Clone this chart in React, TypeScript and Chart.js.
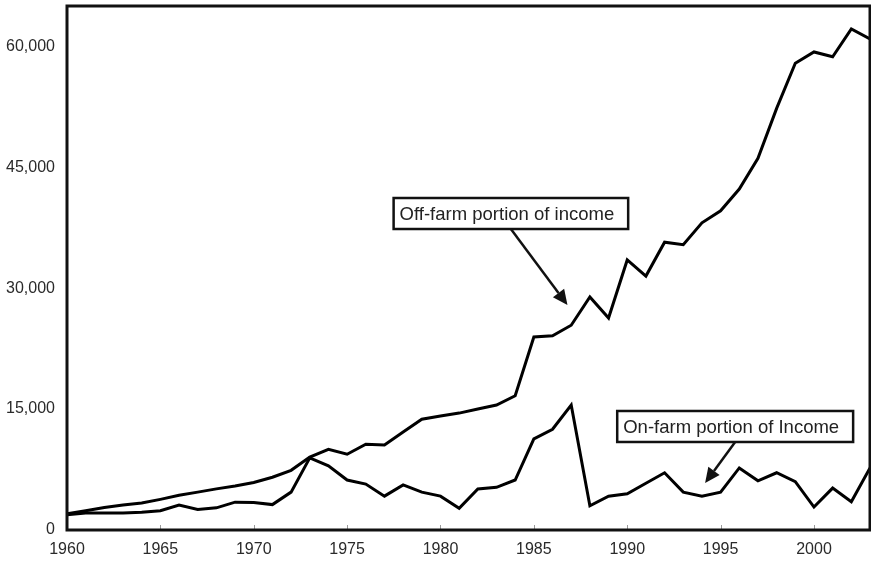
import React, { useEffect, useRef } from "react";
import { Chart, registerables } from "chart.js";

Chart.register(...registerables);

const years = [
  1960, 1961, 1962, 1963, 1964, 1965, 1966, 1967, 1968, 1969,
  1970, 1971, 1972, 1973, 1974, 1975, 1976, 1977, 1978, 1979,
  1980, 1981, 1982, 1983, 1984, 1985, 1986, 1987, 1988, 1989,
  1990, 1991, 1992, 1993, 1994, 1995, 1996, 1997, 1998, 1999,
  2000, 2001, 2002, 2003,
];

const offFarm = [
  2000, 2400, 2800, 3100, 3350, 3800, 4300, 4700, 5100, 5450,
  5900, 6550, 7400, 9050, 10000, 9400, 10650, 10550, 12150, 13750,
  14150, 14500, 15000, 15500, 16650, 23950, 24100, 25400, 28900, 26300,
  33500, 31500, 35700, 35400, 38100, 39600, 42300, 46100, 52300, 57900,
  59300, 58700, 62150, 60900,
];

const onFarm = [
  1900, 2100, 2100, 2100, 2200, 2400, 3100, 2550, 2750, 3450,
  3400, 3150, 4700, 8950, 7950, 6200, 5700, 4200, 5600, 4700,
  4200, 2700, 5100, 5300, 6200, 11300, 12500, 15500, 3000, 4200,
  4500, 5800, 7100, 4700, 4200, 4700, 7700, 6100, 7100, 6000,
  2850, 5200, 3500, 7700,
];

const xTickLabels = [1960, 1965, 1970, 1975, 1980, 1985, 1990, 1995, 2000];
const yTickLabels = [0, 15000, 30000, 45000, 60000];
const xMin = 1960;
const xMax = 2003;
const yMin = 0;
const yMax = 65000;

// Annotation anchors in data units (box centre, arrow tip)
const annotationTexts = ["Off-farm portion of income", "On-farm portion of Income"];
const annotationBoxYears = [1983.77, 1995.78];
const annotationBoxValues = [39260, 12840];
const annotationTipYears = [1986.8, 1994.17];
const annotationTipValues = [27900, 5830];

const FONT = "'Liberation Sans', Arial, sans-serif";

const framePlugin = {
  id: "frameAndNotes",
  afterDatasetsDraw(chart: any) {
    const { ctx, chartArea, scales } = chart;
    const xs = scales.x;
    const ys = scales.y;
    ctx.save();
    // inward tick marks on x axis
    ctx.strokeStyle = "#999";
    ctx.lineWidth = 1;
    for (const v of xTickLabels) {
      const px = Math.round(xs.getPixelForValue(v)) + 0.5;
      ctx.beginPath();
      ctx.moveTo(px, chartArea.bottom);
      ctx.lineTo(px, chartArea.bottom - 5);
      ctx.stroke();
    }
    // frame
    ctx.strokeStyle = "#111";
    ctx.lineWidth = 3;
    ctx.strokeRect(chartArea.left, chartArea.top, chartArea.right - chartArea.left, chartArea.bottom - chartArea.top);

    // annotations
    ctx.font = `18.5px ${FONT}`;
    for (let i = 0; i < annotationTexts.length; i++) {
      const text = annotationTexts[i];
      const cx = xs.getPixelForValue(annotationBoxYears[i]);
      const cy = ys.getPixelForValue(annotationBoxValues[i]);
      const tw = ctx.measureText(text).width;
      const w = tw + 20;
      const h = 31;
      const left = cx - w / 2;
      const top = cy - h / 2;
      ctx.fillStyle = "#fff";
      ctx.fillRect(left, top, w, h);
      ctx.strokeStyle = "#111";
      ctx.lineWidth = 2.5;
      ctx.strokeRect(left, top, w, h);
      ctx.fillStyle = "#222";
      ctx.textAlign = "left";
      ctx.textBaseline = "middle";
      ctx.fillText(text, left + 6, cy + 1);

      // arrow
      const sx = cx;
      const sy = top + h;
      const tx = xs.getPixelForValue(annotationTipYears[i]);
      const ty = ys.getPixelForValue(annotationTipValues[i]);
      const ang = Math.atan2(ty - sy, tx - sx);
      const headLen = 15;
      const headHalf = 7;
      const bx = tx - headLen * Math.cos(ang);
      const by = ty - headLen * Math.sin(ang);
      ctx.strokeStyle = "#111";
      ctx.lineWidth = 2.5;
      ctx.beginPath();
      ctx.moveTo(sx, sy);
      ctx.lineTo(bx, by);
      ctx.stroke();
      ctx.fillStyle = "#111";
      ctx.beginPath();
      ctx.moveTo(tx, ty);
      ctx.lineTo(bx + headHalf * Math.sin(ang), by - headHalf * Math.cos(ang));
      ctx.lineTo(bx - headHalf * Math.sin(ang), by + headHalf * Math.cos(ang));
      ctx.closePath();
      ctx.fill();
    }
    ctx.restore();
  },
};

export default function App() {
  const canvasRef = useRef<HTMLCanvasElement | null>(null);

  useEffect(() => {
    document.body.style.margin = "0";
    const canvas = canvasRef.current;
    if (!canvas) return;
    const chart = new Chart(canvas, {
      type: "line",
      data: {
        datasets: [
          {
            label: "Off-farm portion of income",
            data: years.map((y, i) => ({ x: y, y: offFarm[i] })),
            borderColor: "#000",
            borderWidth: 3,
            pointRadius: 0,
            tension: 0,
            fill: false,
          },
          {
            label: "On-farm portion of Income",
            data: years.map((y, i) => ({ x: y, y: onFarm[i] })),
            borderColor: "#000",
            borderWidth: 3,
            pointRadius: 0,
            tension: 0,
            fill: false,
          },
        ],
      },
      options: {
        animation: false,
        responsive: false,
        layout: { padding: { top: 6, right: 1, left: 0, bottom: 0 } },
        plugins: { legend: { display: false }, tooltip: { enabled: false } },
        scales: {
          x: {
            type: "linear",
            min: xMin,
            max: xMax,
            grid: { display: false, drawTicks: false },
            border: { display: false },
            afterBuildTicks: (s: any) => {
              s.ticks = xTickLabels.map((v) => ({ value: v }));
            },
            ticks: {
              autoSkip: false,
              maxRotation: 0,
              padding: 10,
              color: "#2a2a2a",
              font: { family: FONT, size: 16 },
              callback: (v: any) => String(v),
            },
            afterFit: (s: any) => {
              s.height = 33;
              s.paddingLeft = 0;
              s.paddingRight = 0;
            },
          },
          y: {
            min: yMin,
            max: yMax,
            grid: { display: false, drawTicks: false },
            border: { display: false },
            afterBuildTicks: (s: any) => {
              s.ticks = yTickLabels.map((v) => ({ value: v }));
            },
            ticks: {
              autoSkip: false,
              padding: 12,
              color: "#2a2a2a",
              font: { family: FONT, size: 16 },
              callback: (v: any) => Number(v).toLocaleString("en-US"),
            },
            afterFit: (s: any) => {
              s.width = 67;
              s.paddingTop = 0;
              s.paddingBottom = 0;
            },
          },
        },
      },
      plugins: [framePlugin],
    });
    return () => chart.destroy();
  }, []);

  return (
    <div style={{ position: "fixed", left: 0, top: 0, width: 871, height: 563, background: "#fff" }}>
      <canvas ref={canvasRef} width={871} height={563} style={{ display: "block" }} />
    </div>
  );
}
